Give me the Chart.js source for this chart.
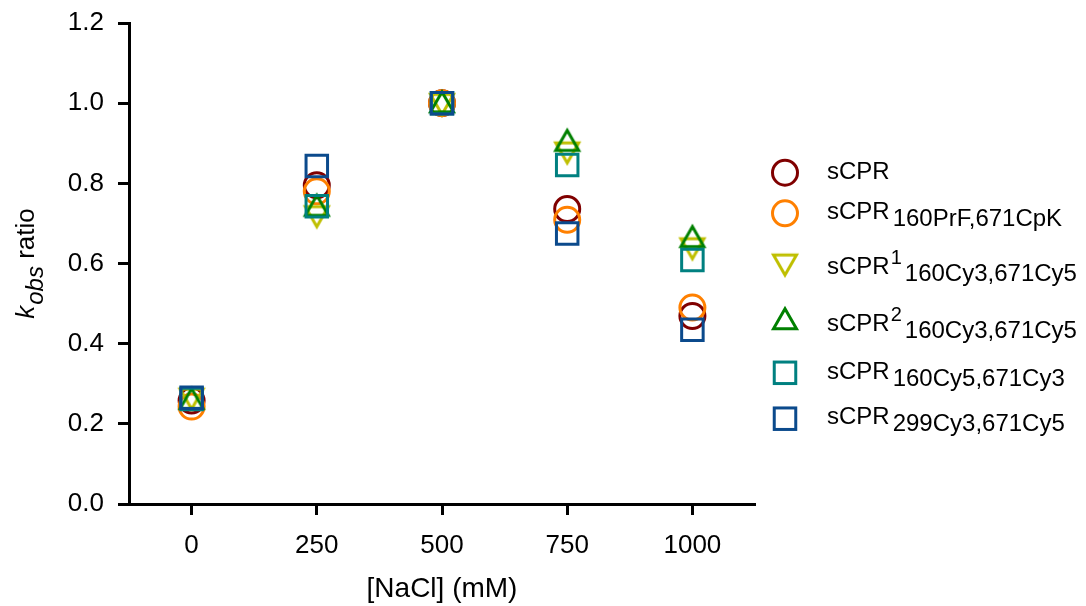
<!DOCTYPE html>
<html>
<head>
<meta charset="utf-8">
<script src="https://cdn.jsdelivr.net/npm/chart.js@4.4.1/dist/chart.umd.min.js"></script>
<style>
html,body{margin:0;padding:0;background:#fff;}
#wrap{width:1086px;height:606px;position:relative;}
</style>
</head>
<body>
<div id="wrap"><canvas id="c" width="1086" height="606"></canvas></div>
<script>
// ---- data ----
const nacl = [0, 250, 500, 750, 1000];
const xTicks = [0, 250, 500, 750, 1000];
const yTicks = [0.0, 0.2, 0.4, 0.6, 0.8, 1.0, 1.2];

const sCPR          = [0.258, 0.795, 1.000, 0.736, 0.469];
const sCPR_PrF_CpK  = [0.243, 0.780, 1.000, 0.709, 0.490];
const sCPR1_Cy3_Cy5 = [0.260, 0.715, 0.995, 0.874, 0.635];
const sCPR2_Cy3_Cy5 = [0.265, 0.747, 1.005, 0.909, 0.669];
const sCPR_Cy5_Cy3  = [0.262, 0.743, 1.000, 0.846, 0.609];
const sCPR299       = [0.265, 0.843, 1.000, 0.675, 0.435];

const seriesNames = ['sCPR', 'sCPR160PrF,671CpK', 'sCPR1 160Cy3,671Cy5', 'sCPR2 160Cy3,671Cy5', 'sCPR160Cy5,671Cy3', 'sCPR299Cy3,671Cy5'];
const labelBase = ['sCPR', 'sCPR', 'sCPR', 'sCPR', 'sCPR', 'sCPR'];
const labelSup  = ['', '', '1', '2', '', ''];
const labelSub  = ['', '160PrF,671CpK', '160Cy3,671Cy5', '160Cy3,671Cy5', '160Cy5,671Cy3', '299Cy3,671Cy5'];

const xTitle = '[NaCl] (mM)';
const yTitleK = 'k', yTitleSub = 'obs', yTitleRest = ' ratio';

// ---- styles ----
const STYLE = {
  colors: ['#800000', '#ff8000', '#bfbf00', '#008000', '#008080', '#0b4a8c'],
  shapes: ['circle', 'circle', 'triDown', 'triUp', 'rect', 'rect'],
  font: "'Liberation Sans', Arial, Helvetica, sans-serif"
};

function triImg(color, down) {
  const c = document.createElement('canvas');
  c.width = 36; c.height = 32;
  const g = c.getContext('2d');
  g.strokeStyle = color; g.lineWidth = 3; g.lineJoin = 'miter';
  const cx = 18, cy = 16, w = 11.5;
  g.beginPath();
  if (!down) {
    const s = 0.75;
    g.moveTo(cx, cy - 10 + s); g.lineTo(cx + w, cy + 10 + s); g.lineTo(cx - w, cy + 10 + s);
  } else {
    const s = -0.75;
    g.moveTo(cx, cy + 10 + s); g.lineTo(cx + w, cy - 10 + s); g.lineTo(cx - w, cy - 10 + s);
  }
  g.closePath(); g.stroke();
  return c;
}

const series = [sCPR, sCPR_PrF_CpK, sCPR1_Cy3_Cy5, sCPR2_Cy3_Cy5, sCPR_Cy5_Cy3, sCPR299];
const pointImgs = STYLE.shapes.map((s, i) =>
  s === 'triUp' ? triImg(STYLE.colors[i], false) : s === 'triDown' ? triImg(STYLE.colors[i], true) : s);

function radiusFor(s) { return s === 'circle' ? 12.5 : s === 'rect' ? 15.2 : 12; }

const datasets = series.map((vals, i) => ({
  label: seriesNames[i],
  data: nacl.map((x, j) => ({ x: x, y: vals[j] })),
  showLine: false,
  pointStyle: pointImgs[i],
  pointRadius: radiusFor(STYLE.shapes[i]),
  pointHoverRadius: radiusFor(STYLE.shapes[i]),
  pointBorderWidth: 3,
  pointHoverBorderWidth: 3,
  borderColor: STYLE.colors[i],
  backgroundColor: 'rgba(0,0,0,0)',
  order: series.length - i
}));

const decoPlugin = {
  id: 'deco',
  afterDraw(chart) {
    const ctx = chart.ctx;
    const area = chart.chartArea;
    ctx.save();
    // y-axis title with italic subscript
    const fMain = 'italic 26px ' + STYLE.font;
    const fSub = 'italic 24px ' + STYLE.font;
    const fNorm = '26px ' + STYLE.font;
    ctx.font = fMain; const wk = ctx.measureText(yTitleK).width;
    ctx.font = fSub; const wo = ctx.measureText(yTitleSub).width;
    ctx.font = fNorm; const wr = ctx.measureText(yTitleRest).width;
    const total = wk + wo + wr + 1;
    ctx.translate(34, (area.top + area.bottom) / 2);
    ctx.rotate(-Math.PI / 2);
    ctx.fillStyle = '#000';
    ctx.textBaseline = 'alphabetic';
    ctx.textAlign = 'left';
    let x0 = -total / 2;
    ctx.font = fMain; ctx.fillText(yTitleK, x0, 0); x0 += wk + 1;
    ctx.font = fSub; ctx.fillText(yTitleSub, x0, 9); x0 += wo;
    ctx.font = fNorm; ctx.fillText(yTitleRest, x0, 0);
    ctx.restore();

    // legend
    const markerX = area.right + 30;
    const textX = area.right + 72;
    const rowsY = [172.7, 213.3, 265.7, 318, 372.8, 418.7];
    const baseY = [178.5, 218.5, 273.5, 330.5, 378.5, 423.5];
    ctx.save();
    for (let i = 0; i < labelBase.length; i++) {
      const col = STYLE.colors[i];
      const s = STYLE.shapes[i];
      const my = rowsY[i];
      ctx.strokeStyle = col; ctx.lineWidth = 3;
      if (s === 'circle') {
        ctx.beginPath(); ctx.arc(markerX, my, 12.5, 0, Math.PI * 2); ctx.stroke();
      } else if (s === 'rect') {
        ctx.strokeRect(markerX - 10.75, my - 10.75, 21.5, 21.5);
      } else {
        const img = pointImgs[i];
        ctx.drawImage(img, markerX - img.width / 2, my - img.height / 2);
      }
      ctx.fillStyle = '#000';
      ctx.textAlign = 'left'; ctx.textBaseline = 'alphabetic';
      ctx.font = '24px ' + STYLE.font;
      let tx = textX;
      ctx.fillText(labelBase[i], tx, baseY[i]);
      tx += ctx.measureText(labelBase[i]).width + 1;
      if (labelSup[i]) {
        ctx.font = '20px ' + STYLE.font;
        ctx.fillText(labelSup[i], tx, baseY[i] - 10);
        tx += ctx.measureText(labelSup[i]).width + 1;
      }
      if (labelSub[i]) {
        ctx.font = '24px ' + STYLE.font;
        ctx.fillText(labelSub[i], tx + 2, baseY[i] + 7.5);
      }
    }
    ctx.restore();
  }
};

Chart.defaults.font.family = STYLE.font;
Chart.defaults.color = '#000';

new Chart(document.getElementById('c'), {
  type: 'scatter',
  data: { datasets: datasets },
  options: {
    responsive: false,
    devicePixelRatio: 1,
    animation: false,
    layout: { padding: { left: 0, top: 23, right: 331, bottom: 0 } },
    plugins: { legend: { display: false }, tooltip: { enabled: false } },
    events: [],
    scales: {
      x: {
        type: 'linear',
        min: -125, max: 1125,
        afterBuildTicks: s => { s.ticks = xTicks.map(v => ({ value: v })); },
        afterFit: s => { s.height = 102; s.paddingLeft = 0; s.paddingRight = 0; },
        ticks: { font: { size: 26 }, color: '#000', padding: 15, maxRotation: 0, callback: v => String(v) },
        grid: { display: true, drawOnChartArea: false, drawTicks: true, tickLength: 11, tickWidth: 3, tickColor: '#000' },
        border: { display: true, width: 3, color: '#000' },
        title: { display: true, text: xTitle, font: { size: 28 }, color: '#000', padding: { top: 0, bottom: 0 } }
      },
      y: {
        type: 'linear',
        min: 0, max: 1.2,
        afterBuildTicks: s => { s.ticks = yTicks.map(v => ({ value: v })); },
        afterFit: s => { s.width = 129; s.paddingTop = 0; s.paddingBottom = 0; },
        ticks: { font: { size: 26 }, color: '#000', padding: 14, callback: v => Number(v).toFixed(1) },
        grid: { display: true, drawOnChartArea: false, drawTicks: true, tickLength: 11, tickWidth: 3, tickColor: '#000' },
        border: { display: true, width: 3, color: '#000' }
      }
    }
  },
  plugins: [decoPlugin]
});
</script>
</body>
</html>
